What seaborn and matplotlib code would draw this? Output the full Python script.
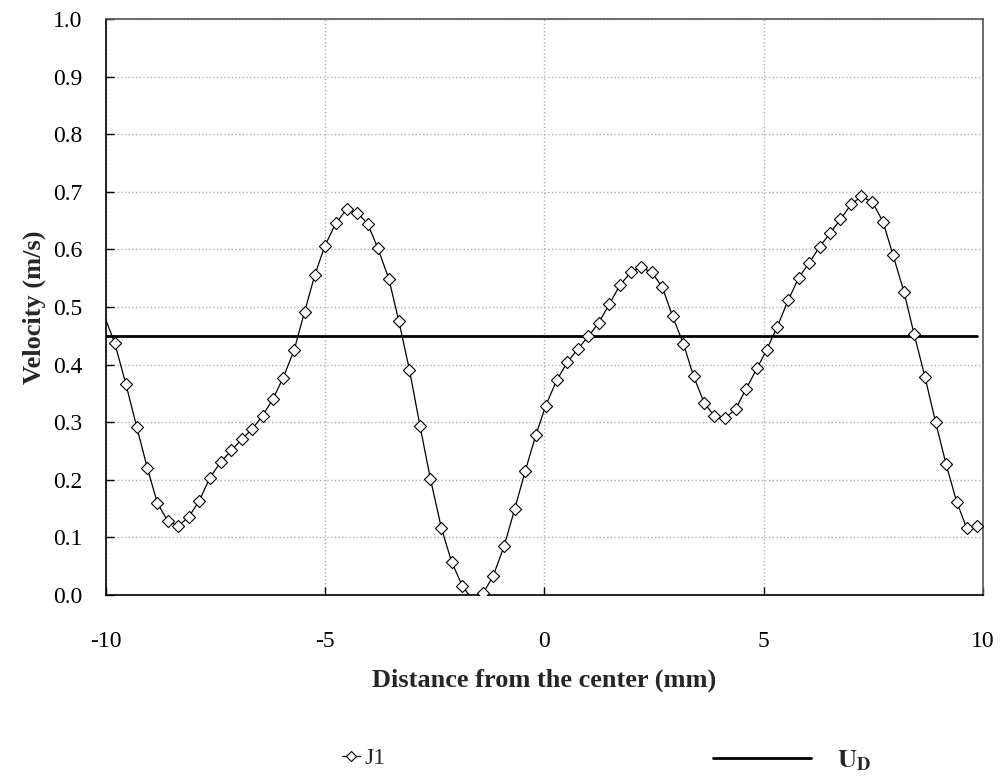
import numpy as np
import pandas as pd
import seaborn as sns
import matplotlib.pyplot as plt
from matplotlib.lines import Line2D

# J1 velocity profile (first/last points lie just outside the axes)
dist = [-10.04, -9.80, -9.55, -9.30, -9.06, -8.83, -8.59, -8.35, -8.11, -7.87,
        -7.63, -7.38, -7.14, -6.91, -6.67, -6.43, -6.19, -5.96, -5.71, -5.47,
        -5.24, -5.01, -4.76, -4.51, -4.27, -4.03, -3.80, -3.55, -3.32, -3.08,
        -2.84, -2.60, -2.35, -2.12, -1.87, -1.64, -1.40, -1.17, -0.92, -0.68,
        -0.44, -0.20, 0.03, 0.28, 0.52, 0.76, 1.00, 1.24, 1.48, 1.72,
        1.97, 2.20, 2.45, 2.69, 2.92, 3.17, 3.40, 3.64, 3.87, 4.12,
        4.36, 4.60, 4.85, 5.07, 5.31, 5.56, 5.80, 6.04, 6.28, 6.51,
        6.75, 6.99, 7.23, 7.48, 7.72, 7.95, 8.20, 8.43, 8.68, 8.92,
        9.16, 9.40, 9.63, 9.87, 10.11]
vel = [0.485, 0.437, 0.367, 0.292, 0.221, 0.160, 0.128, 0.120, 0.136, 0.164,
       0.204, 0.231, 0.251, 0.270, 0.288, 0.311, 0.341, 0.377, 0.425, 0.492,
       0.555, 0.606, 0.645, 0.670, 0.664, 0.644, 0.602, 0.549, 0.475, 0.391,
       0.294, 0.201, 0.116, 0.058, 0.015, -0.008, 0.003, 0.033, 0.085, 0.149,
       0.215, 0.277, 0.329, 0.373, 0.404, 0.427, 0.449, 0.473, 0.505, 0.538,
       0.560, 0.569, 0.560, 0.534, 0.484, 0.436, 0.380, 0.334, 0.311, 0.307,
       0.323, 0.358, 0.394, 0.426, 0.466, 0.512, 0.551, 0.577, 0.605, 0.628,
       0.652, 0.678, 0.692, 0.682, 0.648, 0.590, 0.526, 0.453, 0.378, 0.300,
       0.227, 0.162, 0.116, 0.119, 0.124]

# design velocity U_D
ud_x = [-10.0, 9.87]
ud_y = [0.45, 0.45]

x_ticks = [-10, -5, 0, 5, 10]
y_ticks = [0.0, 0.1, 0.2, 0.3, 0.4, 0.5, 0.6, 0.7, 0.8, 0.9, 1.0]

sns.set_theme(style="white")
plt.rcParams['font.family'] = ['Liberation Serif', 'DejaVu Serif']
plt.rcParams['mathtext.fontset'] = 'stix'

df = pd.DataFrame({'x': dist, 'v': vel})
ud = pd.DataFrame({'x': ud_x, 'v': ud_y})
# points whose markers show inside the frame
shown = df[df.x.between(-10, 10) & (df.v >= 0)]

fig = plt.figure(figsize=(10.03, 7.78), dpi=100)
ax = fig.add_axes([0.1057, 0.2352, 0.8743, 0.7404])

ax.grid(True, color='#b0b0b0', linestyle=':', linewidth=1.0)
ax.set_axisbelow(True)

sns.lineplot(data=ud, x='x', y='v', ax=ax, color='black', linewidth=2.0)
sns.lineplot(data=df, x='x', y='v', ax=ax, color='black', linewidth=0.9)
sns.scatterplot(data=shown, x='x', y='v', ax=ax, marker='D', s=38,
                facecolor='white', edgecolor='black', linewidth=0.8, zorder=3)

ax.set_xlim(-10, 10)
ax.set_ylim(0, 1.0)
ax.set_xticks(x_ticks)
ax.set_yticks(y_ticks)
ax.set_xticklabels([str(t) for t in x_ticks])
ax.set_yticklabels([f'{t:.1f}' for t in y_ticks])
ax.tick_params(axis='both', direction='in', length=6, width=1, color='black',
               labelsize=17, labelcolor='black')
ax.tick_params(axis='x', pad=26, bottom=True)
ax.tick_params(axis='y', pad=17, left=True)

for side in ['left', 'bottom']:
    ax.spines[side].set_color('black')
    ax.spines[side].set_linewidth(1.2)
for side in ['top', 'right']:
    ax.spines[side].set_color('#555555')
    ax.spines[side].set_linewidth(1.2)

ax.set_xlabel('Distance from the center (mm)', fontsize=19, fontweight='bold', labelpad=12)
ax.set_ylabel('Velocity (m/s)', fontsize=19, fontweight='bold', labelpad=5)

h1 = Line2D([], [], color='black', linewidth=0.9, marker='D', markersize=5.5,
            markerfacecolor='white', markeredgecolor='black', markeredgewidth=0.8)
h2 = Line2D([], [], color='black', linewidth=2.0)
leg1 = fig.legend([h1], ['J1'], loc='center', bbox_to_anchor=(0.363, 0.025),
                  frameon=False, fontsize=17, handlelength=0.75, handletextpad=0.2)
leg2 = fig.legend([h2], [r'$\mathbf{U}_\mathbf{D}$'], loc='center',
                  bbox_to_anchor=(0.79, 0.022), frameon=False, fontsize=19,
                  handlelength=3.7, handletextpad=1.0)

fig.savefig('out.png', dpi=100)
